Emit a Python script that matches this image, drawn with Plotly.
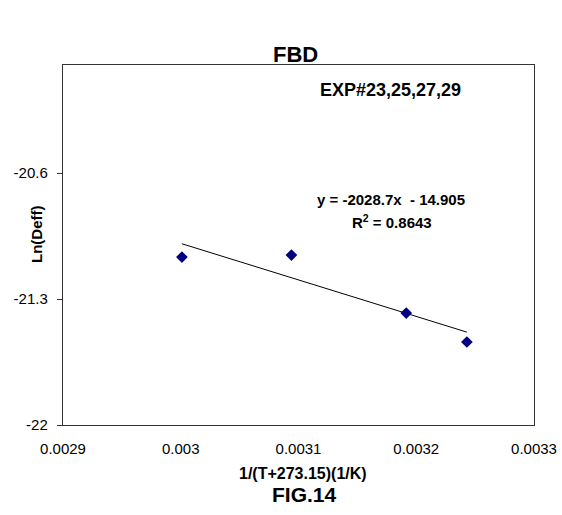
import plotly.graph_objects as go

# Data
inv_T = [0.003001, 0.003094, 0.0031915, 0.003243]
ln_deff = [-21.067, -21.056, -21.378, -21.539]

# Trendline as stated on chart: y = -2028.7x - 14.905
slope = -2028.7
intercept = -14.905
r2 = 0.8643

x_ticks = [0.0029, 0.003, 0.0031, 0.0032, 0.0033]
x_tick_labels = ["0.0029", "0.003", "0.0031", "0.0032", "0.0033"]
y_ticks = [-22, -21.3, -20.6]
y_tick_labels = ["-22", "-21.3", "-20.6"]

trend_x = [min(inv_T), max(inv_T)]
trend_y = [slope * v + intercept for v in trend_x]

FONT = "Liberation Sans, Arial, sans-serif"


def px(x):  # page pixel -> paper x
    return (x - 63) / 471


def py(y):  # page pixel -> paper y
    return (425 - y) / 360


fig = go.Figure()
fig.add_trace(go.Scatter(x=trend_x, y=trend_y, mode="lines",
                         line=dict(color="black", width=1), showlegend=False))
fig.add_trace(go.Scatter(x=inv_T, y=ln_deff, mode="markers",
                         marker=dict(symbol="diamond", size=9, color="#000080"),
                         showlegend=False))

fig.update_layout(
    width=562, height=515,
    margin=dict(l=63, r=28, t=65, b=90),
    paper_bgcolor="white", plot_bgcolor="white",
    font=dict(family=FONT, size=12, color="black"),
    xaxis=dict(range=[0.0029, 0.0033], tickvals=x_ticks, ticktext=x_tick_labels,
               showgrid=False, zeroline=False, showline=True, linecolor="#333333",
               linewidth=1.4, mirror=True, ticks="", ticklabelstandoff=10,
               automargin=False, tickfont=dict(size=15, family=FONT)),
    yaxis=dict(range=[-22, -20], tickvals=y_ticks, ticktext=y_tick_labels,
               showgrid=False, zeroline=False, showline=True, linecolor="#333333",
               linewidth=1.4, mirror=True, ticks="outside", ticklen=5,
               tickcolor="#333333", ticklabelstandoff=6, automargin=False,
               tickfont=dict(size=15, family=FONT)),
    annotations=[
        dict(text="<b>FBD</b>", xref="paper", yref="paper", x=px(295), y=py(54),
             showarrow=False, font=dict(size=22, family=FONT), xanchor="center", yanchor="middle"),
        dict(text="<b>EXP#23,25,27,29</b>", xref="paper", yref="paper", x=px(390),
             y=py(90), showarrow=False, font=dict(size=18, family=FONT),
             xanchor="center", yanchor="middle"),
        dict(text=f"<b>y = {slope}x  - {abs(intercept)}</b>",
             xref="paper", yref="paper", x=px(391), y=py(199),
             showarrow=False, font=dict(size=15, family=FONT),
             xanchor="center", yanchor="middle"),
        dict(text=f"<b>R<sup>2</sup> = {r2}</b>",
             xref="paper", yref="paper", x=px(392), y=py(221),
             showarrow=False, font=dict(size=15, family=FONT),
             xanchor="center", yanchor="middle"),
        dict(text="<b>Ln(Deff)</b>", xref="paper", yref="paper", x=px(36),
             y=py(235), showarrow=False, textangle=-90,
             font=dict(size=15, family=FONT), xanchor="center", yanchor="middle"),
        dict(text="<b>1/(T+273.15)(1/K)</b>", xref="paper", yref="paper", x=px(303),
             y=py(473), showarrow=False, font=dict(size=16, family=FONT),
             xanchor="center", yanchor="middle"),
        dict(text="<b>FIG.14</b>", xref="paper", yref="paper", x=px(304),
             y=py(494), showarrow=False, font=dict(size=21, family=FONT),
             xanchor="center", yanchor="middle"),
    ],
)

fig.write_html("out.html", config={"displayModeBar": False},
               post_script="document.body.style.margin='0';")
